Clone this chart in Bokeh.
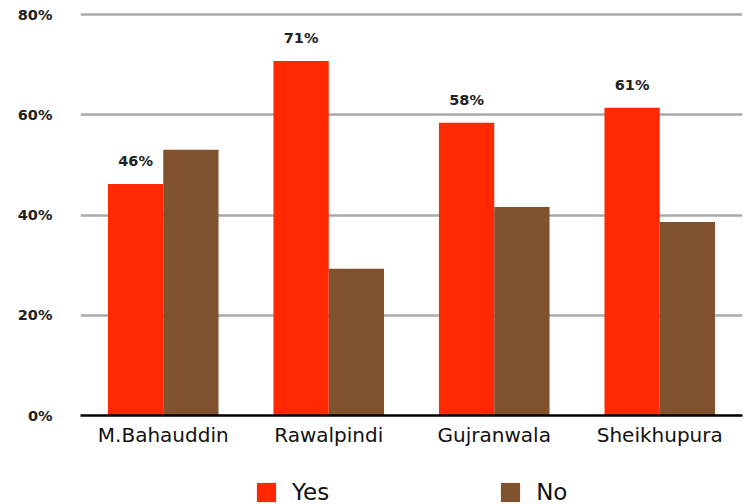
from bokeh.plotting import figure
from bokeh.layouts import column
from bokeh.models import ColumnDataSource, FactorRange, Range1d, FixedTicker, Legend, LegendItem
from bokeh.transform import dodge
from bokeh.embed import file_html
from bokeh.resources import INLINE

cities = ["M.Bahauddin", "Rawalpindi", "Gujranwala", "Sheikhupura"]
yes_vals = [46.2, 70.7, 58.4, 61.4]
no_vals = [53.0, 29.3, 41.6, 38.6]
yes_labels = ["46%", "71%", "58%", "61%"]
tick_values = [0, 20, 40, 60, 80]
tick_labels = ["0%", "20%", "40%", "60%", "80%"]
series_names = ["Yes", "No"]

RED = "#FF2800"
BROWN = "#81522E"

src = ColumnDataSource(dict(city=cities, yes=yes_vals, no=no_vals, lab=yes_labels))

p = figure(x_range=FactorRange(*cities), y_range=Range1d(0, 80.6),
           width=745, height=455, output_backend="svg", toolbar_location=None,
           min_border_left=80, min_border_right=3, min_border_top=11, min_border_bottom=40)
p.outline_line_color = None
p.background_fill_color = "white"
p.border_fill_color = "white"

p.vbar(x=dodge("city", -0.167, range=p.x_range), top="yes", width=0.334,
       source=src, fill_color=RED, line_color=None)
p.vbar(x=dodge("city", 0.167, range=p.x_range), top="no", width=0.334,
       source=src, fill_color=BROWN, line_color=None)

p.text(x=dodge("city", -0.167, range=p.x_range), y="yes", text="lab", source=src,
       text_align="center", text_baseline="middle", y_offset=-23,
       text_font_size="14.5px", text_font_style="bold", text_color="#222222",
       text_font={"value": "DejaVu Sans"})

# axes
p.yaxis.ticker = FixedTicker(ticks=tick_values)
p.yaxis.major_label_overrides = {v: s for v, s in zip(tick_values, tick_labels)}
p.yaxis.axis_line_color = None
p.yaxis.major_tick_line_color = None
p.yaxis.minor_tick_line_color = None
p.yaxis.major_label_standoff = 22
p.yaxis.major_label_text_font = "DejaVu Sans"
p.yaxis.major_label_text_font_style = "bold"
p.yaxis.major_label_text_font_size = "14.5px"
p.yaxis.major_label_text_color = "#222222"

p.xaxis.axis_line_color = "black"
p.xaxis.axis_line_width = 2.5
p.xaxis.major_tick_line_color = None
p.xaxis.minor_tick_line_color = None
p.xaxis.major_label_standoff = 1
p.xaxis.major_label_text_font = "DejaVu Sans"
p.xaxis.major_label_text_font_size = "20px"
p.xaxis.major_label_text_color = "#111111"

p.xgrid.grid_line_color = None
p.ygrid.ticker = FixedTicker(ticks=tick_values)
p.ygrid.grid_line_color = "#aaaaaa"
p.ygrid.grid_line_width = 2.5

# legend strip below the chart (swatch-only renderers, nothing drawn)
lg = figure(width=745, height=49, output_backend="svg", toolbar_location=None,
            x_range=Range1d(0, 1), y_range=Range1d(0, 1),
            min_border_left=0, min_border_right=0, min_border_top=0, min_border_bottom=0)
lg.axis.visible = False
lg.grid.visible = False
lg.outline_line_color = None
lg.border_fill_color = "white"
nan = float("nan")
ly = lg.vbar(x=[nan], top=[nan], width=0.1, fill_color=RED, line_color=None)
ln = lg.vbar(x=[nan], top=[nan], width=0.1, fill_color=BROWN, line_color=None)
legend = Legend(items=[LegendItem(label=series_names[0], renderers=[ly]),
                       LegendItem(label=series_names[1], renderers=[ln])],
                location=(174, -1), orientation="horizontal",
                glyph_width=24, glyph_height=24, label_standoff=14, spacing=169,
                padding=0, margin=0, border_line_color=None, background_fill_alpha=0,
                label_text_font="DejaVu Sans", label_text_font_size="23px",
                label_text_color="#111111")
lg.add_layout(legend, "center")

layout = column(p, lg, spacing=0)
open("out.html", "w").write(file_html(layout, INLINE))
